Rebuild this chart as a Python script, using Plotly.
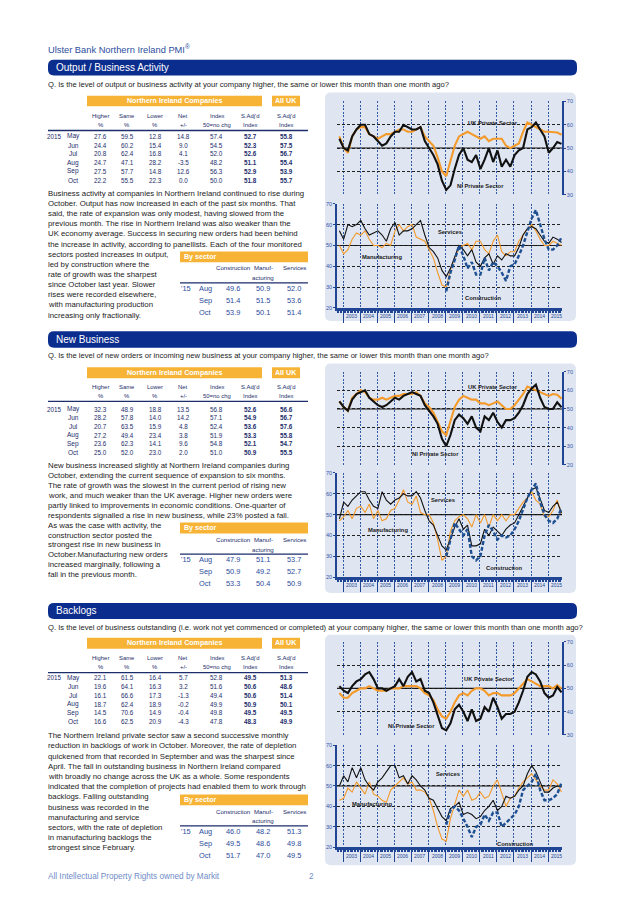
import plotly.graph_objects as go

W, H = 638, 903          # target picture size
OFF = 8                  # the page body adds an 8 px margin; the figure fills the rest
FW, FH = W - OFF, H - OFF

# ----------------------------- data -----------------------------
# quarterly readings (Jan/Apr/Jul/Oct) from Oct 2002 to Oct 2015
start_year, start_month, n_points = 2002, 10, 53
dates = []
for k in range(n_points):
    m = start_month - 1 + 3 * k
    dates.append(f"{start_year + m // 12}-{m % 12 + 1:02d}-15")

year_labels = list(range(2003, 2016))

# Output / Business Activity
out_ni = [54, 50, 49, 55, 58, 60, 60, 56, 55, 53, 51, 52, 55, 57, 57, 60, 59, 58, 58, 59, 53, 50, 47, 43, 36,
          32, 34, 41, 47, 50, 45, 44, 47, 41, 45, 50, 44, 49, 42, 45, 42, 47, 49, 50, 58, 59, 61, 58, 55, 48, 50, 52.6, 51.8]
out_uk = [55, 50, 48, 55, 58, 59, 59, 56, 55, 54, 55, 56, 56, 57, 58, 58, 57, 57, 58, 59, 55, 53, 51, 46, 40,
          38, 44, 51, 55, 56, 57, 56, 55, 54, 55, 53, 54, 54, 54, 51, 50, 51, 52, 57, 61, 60, 59, 58, 57, 57, 57, 56.7, 55.7]
out_serv = [57, 53, 60, 59, 60, 62, 58, 55, 56, 57, 55, 52, 58, 61, 55, 57, 57, 58, 60, 62, 55, 49, 47, 44, 38,
            35, 39, 45, 50, 48, 45, 48, 42, 40, 44, 46, 41, 45, 43, 46, 45, 45, 49, 55, 58, 59, 58, 55, 52, 51, 54, 53, 51.4]
out_manu = [50, 46, 48, 53, 56, 55, 57, 53, 50, 50, 49, 51, 50, 57, 60, 57, 59, 60, 54, 53, 52, 48, 44, 37, 31,
            30, 38, 44, 49, 50, 51, 48, 52, 52, 48, 46, 52, 55, 47, 45, 47, 47, 52, 55, 58, 60, 57, 53, 50, 50, 52, 51, 50.1]
out_cons = [None] * 25 + [28, 37, 43, 50, 45, 39, 42, 36, 36, 44, 38, 42, 40, 37, 33, 40,
                          41, 45, 50, 56, 63, 67, 60, 53, 48, 48, 50, 53.9]

# New Business
nb_ni = [54, 51, 49, 55, 58, 59, 60, 56, 54, 52, 51, 52, 54, 56, 55, 57, 58, 59, 58, 57, 52, 49, 46, 42, 34,
         30, 36, 44, 47, 45, 42, 46, 40, 38, 46, 44, 48, 43, 40, 44, 44, 45, 48, 52, 58, 61, 63, 56, 51, 50, 50, 53.6, 50.9]
nb_uk = [54, 51, 49, 56, 58, 60, 59, 56, 55, 55, 56, 55, 56, 57, 57, 58, 58, 58, 59, 57, 53, 51, 48, 43, 38,
         36, 44, 51, 55, 57, 56, 55, 55, 53, 53, 52, 53, 54, 52, 50, 50, 52, 55, 58, 62, 61, 60, 59, 58, 57, 58, 57.6, 55.5]
nb_serv = [48, 56, 54, 57, 59, 61, 61, 57, 54, 53, 61, 57, 55, 57, 58, 60, 59, 59, 61, 58, 52, 47, 45, 40, 35,
           33, 38, 44, 48, 43, 45, 35, 35, 36, 43, 40, 44, 42, 40, 43, 45, 46, 50, 54, 58, 62, 63, 57, 52, 51, 54, 56, 50.9]
nb_manu = [47, 49, 52, 48, 53, 54, 51, 55, 48, 52, 47, 48, 52, 53, 57, 62, 56, 55, 59, 51, 50, 50, 46, 38, 28,
           30, 42, 47, 49, 50, 48, 44, 50, 46, 50, 44, 50, 47, 50, 47, 50, 50, 53, 56, 58, 61, 57, 55, 49, 49, 52, 57, 50.4]
nb_cons = [None] * 25 + [30, 38, 46, 43, 40, 43, 30, 28, 30, 40, 45, 42, 38, 40, 39, 40,
                         43, 47, 52, 58, 62, 65, 56, 50, 47, 46, 48, 53.3]

# Backlogs
bl_ni = [51, 49, 48, 51, 53, 54, 56, 57, 54, 50, 50, 49, 50, 51, 54, 51, 55, 57, 53, 54, 49, 48, 44, 38, 33,
         32, 35, 41, 43, 40, 36, 41, 36, 37, 42, 40, 46, 42, 37, 39, 39, 40, 44, 49, 55, 57, 56, 53, 48, 46, 47, 50.6, 48.3]
bl_uk = [48, 46, 46, 48, 49, 50, 50, 51, 50, 49, 49, 49, 50, 50, 50, 51, 51, 51, 51, 50, 48, 47, 45, 41, 38,
         37, 40, 44, 47, 48, 47, 49, 50, 50, 49, 47, 48, 48, 47, 47, 47, 48, 50, 52, 54, 53, 52, 51, 51, 51, 50, 51.4, 49.9]
bl_serv = [50, 55, 52, 59, 54, 59, 53, 50, 48, 52, 54, 57, 60, 60, 54, 55, 51, 55, 53, 50, 48, 44, 43, 39, 35,
           33, 39, 40, 42, 36, 37, 36, 34, 35, 38, 40, 43, 38, 40, 45, 44, 45, 48, 50, 56, 60, 57, 52, 47, 47, 49, 50, 49.5]
bl_manu = [43, 44, 49, 47, 52, 49, 46, 52, 46, 45, 43, 42, 48, 50, 52, 54, 51, 52, 48, 48, 47, 44, 38, 30, 24,
           23, 34, 41, 48, 45, 48, 43, 44, 47, 44, 45, 50, 53, 46, 40, 44, 45, 49, 52, 54, 56, 53, 50, 48, 48, 53, 51, 47.0]
bl_cons = [None] * 25 + [31, 38, 40, 38, 34, 30, 25, 30, 31, 36, 33, 37, 37, 30, 32, 34,
                         36, 40, 48, 50, 52, 56, 48, 43, 43, 44, 46, 51.7]

# tables
months = ["May", "Jun", "Jul", "Aug", "Sep", "Oct"]
col_heads = [("Higher", "%"), ("Same", "%"), ("Lower", "%"), ("Net", "+/-"),
             ("Index", "50=no chg"), ("S.Adj'd", "Index"), ("S.Adj'd", "Index")]

out_higher = [27.6, 24.4, 20.8, 24.7, 27.5, 22.2]
out_same = [59.5, 60.2, 62.4, 47.1, 57.7, 55.5]
out_lower = [12.8, 15.4, 16.8, 28.2, 14.8, 22.3]
out_net = [14.8, 9.0, 4.1, -3.5, 12.6, 0.0]
out_index = [57.4, 54.5, 52.0, 48.2, 56.3, 50.0]
out_sa = [52.7, 52.3, 52.6, 51.1, 52.9, 51.8]
out_uk_sa = [55.8, 57.5, 56.7, 55.4, 53.9, 55.7]

nb_higher = [32.3, 28.2, 20.7, 27.2, 23.6, 25.0]
nb_same = [48.9, 57.8, 63.5, 49.4, 62.3, 52.0]
nb_lower = [18.8, 14.0, 15.9, 23.4, 14.1, 23.0]
nb_net = [13.5, 14.2, 4.8, 3.8, 9.6, 2.0]
nb_index = [56.8, 57.1, 52.4, 51.9, 54.8, 51.0]
nb_sa = [52.6, 54.9, 53.6, 53.3, 52.1, 50.9]
nb_uk_sa = [56.6, 56.7, 57.6, 55.8, 54.7, 55.5]

bl_higher = [22.1, 19.6, 16.1, 18.7, 14.5, 16.6]
bl_same = [61.5, 64.1, 66.6, 62.4, 70.6, 62.5]
bl_lower = [16.4, 16.3, 17.3, 18.9, 14.9, 20.9]
bl_net = [5.7, 3.2, -1.3, -0.2, -0.4, -4.3]
bl_index = [52.8, 51.6, 49.4, 49.9, 49.8, 47.8]
bl_sa = [49.5, 50.6, 50.6, 50.9, 49.5, 48.3]
bl_uk_sa = [51.3, 48.6, 51.4, 50.1, 49.5, 49.9]

sec_months = ["Aug", "Sep", "Oct"]
out_sec_cons = [49.6, 51.4, 53.9]
out_sec_manu = [50.9, 51.5, 50.1]
out_sec_serv = [52.0, 53.6, 51.4]
nb_sec_cons = [47.9, 50.9, 53.3]
nb_sec_manu = [51.1, 49.2, 50.4]
nb_sec_serv = [53.7, 52.7, 50.9]
bl_sec_cons = [46.0, 49.5, 51.7]
bl_sec_manu = [48.2, 48.6, 47.0]
bl_sec_serv = [51.3, 49.8, 49.5]

q1 = "Q. Is the level of output or business activity at your company higher, the same or lower this month than one month ago?"
q2 = "Q. Is the level of new orders or incoming new business at your company higher, the same or lower this month than one month ago?"
q3 = ("Q. Is the level of business outstanding (i.e. work not yet commenced or completed) at your company higher, "
      "the same or lower this month than one month ago?")

para1 = ["Business activity at companies in Northern Ireland continued to rise during",
         "October. Output has now increased in each of the past six months. That",
         "said, the rate of expansion was only modest, having slowed from the",
         "previous month. The rise in Northern Ireland was also weaker than the",
         "UK economy average. Success in securing new orders had been behind",
         "the increase in activity, according to panellists. Each of the four monitored",
         "sectors posted increases in output,",
         "led by construction where the",
         "rate of growth was the sharpest",
         "since October last year. Slower",
         "rises were recorded elsewhere,",
         "with manufacturing production",
         "increasing only fractionally."]
para2 = ["New business increased slightly at Northern Ireland companies during",
         "October, extending the current sequence of expansion to six months.",
         "The rate of growth was the slowest in the current period of rising new",
         "work, and much weaker than the UK average. Higher new orders were",
         "partly linked to improvements in economic conditions. One-quarter of",
         "respondents signalled a rise in new business, while 23% posted a fall.",
         "As was the case with activity, the",
         "construction sector posted the",
         "strongest rise in new business in",
         "October.Manufacturing new orders",
         "increased marginally, following a",
         "fall in the previous month."]
para3 = ["The Northern Ireland private sector saw a second successive monthly",
         "reduction in backlogs of work in October. Moreover, the rate of depletion",
         "quickened from that recorded in September and was the sharpest since",
         "April. The fall in outstanding business in Northern Ireland compared",
         "with broadly no change across the UK as a whole. Some respondents",
         "indicated that the completion of projects had enabled them to work through",
         "backlogs. Falling outstanding",
         "business was recorded in the",
         "manufacturing and service",
         "sectors, with the rate of depletion",
         "in manufacturing backlogs the",
         "strongest since February."]

# ----------------------------- style -----------------------------
FN = "Liberation Sans, Arial, sans-serif"
FR = "Liberation Sans, Arial, sans-serif"
NAVY = "#1c2d6b"
BANNER = "#0b2d8e"
ORANGE_BAR = "#f6b335"
PANEL_BG = "#dfe5f1"
AXIS_BLUE = "#1f4594"
TICK_BLUE = "#3358a8"
VGRID = "#2e5aa8"
C_ORANGE = "#f49a2a"
C_BLACK = "#111111"
C_CONS = "#1d4f91"
TXT = "#222222"
SEC_BLUE = "#2b4b9b"

annotations, shapes = [], []


def X(px):
    return (px - OFF) / FW


def Y(py):
    return 1 - (py - OFF) / FH


def text(x, y, s, size=7, color=TXT, xanchor="left", family=FN, bold=False):
    annotations.append(dict(x=X(x), y=Y(y), xref="paper", yref="paper",
                            text=f"<b>{s}</b>" if bold else s, showarrow=False,
                            xanchor=xanchor, yanchor="middle", borderpad=0,
                            font=dict(size=size, color=color, family=family)))


def rrect(x0, y0, x1, y1, r, color):
    pts = [("M", [(x0 + r, y0)]), ("L", [(x1 - r, y0)]), ("Q", [(x1, y0), (x1, y0 + r)]),
           ("L", [(x1, y1 - r)]), ("Q", [(x1, y1), (x1 - r, y1)]), ("L", [(x0 + r, y1)]),
           ("Q", [(x0, y1), (x0, y1 - r)]), ("L", [(x0, y0 + r)]), ("Q", [(x0, y0), (x0 + r, y0)])]
    path = " ".join(c + " " + " ".join(f"{X(a):.5f},{Y(b):.5f}" for a, b in p) for c, p in pts) + " Z"
    shapes.append(dict(type="path", path=path, xref="paper", yref="paper",
                       fillcolor=color, line=dict(width=0), layer="below"))


def rect(x0, y0, x1, y1, color):
    shapes.append(dict(type="rect", xref="paper", yref="paper", x0=X(x0), x1=X(x1),
                       y0=Y(y1), y1=Y(y0), fillcolor=color, line=dict(width=0), layer="below"))


def hline(x0, x1, y, color, width):
    shapes.append(dict(type="line", xref="paper", yref="paper", x0=X(x0), x1=X(x1),
                       y0=Y(y), y1=Y(y), line=dict(color=color, width=width)))


# ----------------------------- page text -----------------------------
text(47, 46, "Ulster Bank Northern Ireland PMI<sup>®</sup>", 9.3, "#2d4e9e", family=FR)
text(47, 879, "All Intellectual Property Rights owned by Markit", 8.2, "#6f8cc8", family=FR)
text(311, 879, "2", 8.2, "#6f8cc8", xanchor="center", family=FR)

sections = [
    dict(title="Output / Business Activity", q=q1, para=para1,
         table=[out_higher, out_same, out_lower, out_net, out_index, out_sa, out_uk_sa],
         sec=[out_sec_cons, out_sec_manu, out_sec_serv],
         banner=(57, 73), qy=82.3, bar=(93.3, 104), hdr=(113.3, 122.3), ul=128.3, row0=134.3,
         p0=191.7, pdy=10.2, bt=250, box=(90, 320)),
    dict(title="New Business", q=q2, para=para2,
         table=[nb_higher, nb_same, nb_lower, nb_net, nb_index, nb_sa, nb_uk_sa],
         sec=[nb_sec_cons, nb_sec_manu, nb_sec_serv],
         banner=(330.5, 347), qy=355, bar=(366.7, 377.7), hdr=(386.7, 395.3), ul=401, row0=408.7,
         p0=466, pdy=9.95, bt=523, box=(363, 594)),
    dict(title="Backlogs", q=q3, para=para3,
         table=[bl_higher, bl_same, bl_lower, bl_net, bl_index, bl_sa, bl_uk_sa],
         sec=[bl_sec_cons, bl_sec_manu, bl_sec_serv],
         banner=(604, 620), qy=628.3, bar=(639, 650), hdr=(659.3, 668), ul=674, row0=679.3,
         p0=737.7, pdy=10.25, bt=796.7, box=(636, 868)),
]

col_x = [100.7, 127.3, 155.3, 183.3, 216.7, 250.3, 286]
sec_x = [232.7, 263.3, 294]

for s in sections:
    b0, b1 = s["banner"]
    rrect(48, b0, 577, b1, 6, BANNER)
    text(55, (b0 + b1) / 2, s["title"], 10, "white", family=FR)
    text(47, s["qy"], s["q"], 7.6, TXT)
    # main table
    y0, y1 = s["bar"]
    rect(87, y0, 262, y1, ORANGE_BAR)
    rect(272, y0, 300, y1, ORANGE_BAR)
    text(174.5, (y0 + y1) / 2, "Northern Ireland Companies", 7.1, "white", "center", bold=True)
    text(286, (y0 + y1) / 2, "All UK", 7.1, "white", "center", bold=True)
    for cx, (h1, h2) in zip(col_x, col_heads):
        text(cx, s["hdr"][0], h1, 5.9, NAVY, "center")
        text(cx, s["hdr"][1], h2, 5.9, NAVY, "center")
    hline(48, 308, s["ul"], "#1c2d6b", 1.3)
    for i, mth in enumerate(months):
        ry = s["row0"] + 8.8 * i
        if i == 0:
            text(54, ry, "2015", 6.3, NAVY, "center")
        text(73, ry, mth, 6.5, NAVY, "center")
        for j, (cx, col) in enumerate(zip(col_x, s["table"])):
            text(cx, ry, f"{col[i]:.1f}", 6.3, NAVY, "center", bold=(j >= 5))
    # paragraph
    for i, line in enumerate(s["para"]):
        text(47, s["p0"] + s["pdy"] * i, line, 7.8, TXT)
    # by sector table
    bt = s["bt"]
    rect(180, bt, 308, bt + 11, ORANGE_BAR)
    text(183, bt + 5.5, "By sector", 7.1, "white", bold=True)
    text(sec_x[0], bt + 16.7, "Construction", 6.1, NAVY, "center")
    text(sec_x[1], bt + 16.7, "Manuf-", 6.1, NAVY, "center")
    text(sec_x[1], bt + 26.7, "acturing", 6.1, NAVY, "center")
    text(sec_x[2], bt + 16.7, "Services", 6.1, NAVY, "center")
    hline(180, 308, bt + 31.7, "#1c2d6b", 1.3)
    for i, mth in enumerate(sec_months):
        ry = bt + 37.3 + 12 * i
        if i == 0:
            text(186, ry, "'15", 7.4, SEC_BLUE, "center")
        text(205, ry, mth, 7.4, SEC_BLUE, "center")
        for cx, col in zip(sec_x, s["sec"]):
            text(cx, ry, f"{col[i]:.1f}", 7.4, SEC_BLUE, "center")
    # chart background box
    bx0, bx1 = s["box"]
    rrect(325, bx0, 576, bx1, 6, PANEL_BG)

# ----------------------------- charts -----------------------------
panels = [
    dict(top=99, bot=193, lo=30, hi=70, kind="top", series=[(out_uk, C_ORANGE), (out_ni, C_BLACK)],
         labels=[("UK Private Sector", 493, 120.7), ("NI Private Sector", 480, 184)]),
    dict(top=202, bot=307, lo=20, hi=70, kind="bot", series=[(out_manu, "m"), (out_serv, "s"), (out_cons, "c")],
         labels=[("Services", 450, 230.5), ("Manufacturing", 382, 255.7), ("Construction", 483, 296.7)], ylab=315),
    dict(top=371, bot=465, lo=20, hi=70, kind="top", series=[(nb_uk, C_ORANGE), (nb_ni, C_BLACK)],
         labels=[("UK Private Sector", 493, 386.7), ("NI Private Sector", 435, 454.3)]),
    dict(top=473, bot=578, lo=20, hi=70, kind="bot", series=[(nb_manu, "m"), (nb_serv, "s"), (nb_cons, "c")],
         labels=[("Services", 442.5, 500.7), ("Manufacturing", 388, 530.7), ("Construction", 504, 568.3)], ylab=586),
    dict(top=643, bot=737, lo=30, hi=70, kind="top", series=[(bl_uk, C_ORANGE), (bl_ni, C_BLACK)],
         labels=[("UK Private Sector", 489.5, 681), ("NI Private Sector", 411.7, 727.7)]),
    dict(top=747, bot=850, lo=20, hi=70, kind="bot", series=[(bl_manu, "m"), (bl_serv, "s"), (bl_cons, "c")],
         labels=[("Services", 448, 775.7), ("Manufacturing", 372, 806.7), ("Construction", 515, 846.7)], ylab=858.5),
]

fig = go.Figure()
layout_axes = {}
for p, pn in enumerate(panels):
    n = p + 1
    sfx = "" if n == 1 else str(n)
    xa, ya = f"x{sfx}", f"y{sfx}"
    for data, style in pn["series"]:
        if pn["kind"] == "top":
            line = dict(color=style, width=2.1)
        elif style == "m":
            line = dict(color=C_ORANGE, width=1.1)
        elif style == "s":
            line = dict(color=C_BLACK, width=1.1)
        else:
            line = dict(color=C_CONS, width=2.4, dash="4px,2px")
        fig.add_trace(go.Scatter(x=dates, y=data, mode="lines", line=line, xaxis=xa, yaxis=ya,
                                 hoverinfo="skip", showlegend=False, connectgaps=False))
    xdict = dict(domain=[X(337), X(562)], anchor=ya, type="date",
                 range=["2002-08-25", "2015-10-25"], tick0="2003-01-01", dtick="M12",
                 showgrid=True, gridcolor=VGRID, griddash="2px,1.5px", gridwidth=0.9,
                 showticklabels=False, zeroline=False)
    if pn["kind"] == "bot":
        xdict.update(showline=True, linecolor=AXIS_BLUE, linewidth=3, ticks="outside",
                     ticklen=12, tickwidth=0.9, tickcolor=AXIS_BLUE,
                     minor=dict(dtick="M1", tick0="2003-01-01", ticks="outside", ticklen=2,
                                tickwidth=0.7, tickcolor=AXIS_BLUE, showgrid=False))
    else:
        xdict.update(showline=False, ticks="")
    ydict = dict(domain=[Y(pn["bot"]), Y(pn["top"])], anchor=xa,
                 range=[pn["lo"] - 0.05, pn["hi"] + 0.05], tick0=0, dtick=10,
                 showgrid=True, gridcolor="#222222", griddash="3px,2px", gridwidth=0.8,
                 zeroline=False, showline=True, linecolor=AXIS_BLUE, linewidth=1.5,
                 side="right" if pn["kind"] == "top" else "left",
                 ticks="outside", ticklen=2, tickcolor=AXIS_BLUE, tickwidth=0.8,
                 tickfont=dict(size=5.5, color=TICK_BLUE, family=FR))
    layout_axes[f"xaxis{sfx}"] = xdict
    layout_axes[f"yaxis{sfx}"] = ydict
    shapes.append(dict(type="line", xref=f"{xa} domain", yref=ya, x0=0, x1=1, y0=50, y1=50,
                       line=dict(color="#111111", width=1.1), layer="below"))
    for lab, lx, ly in pn["labels"]:
        text(lx, ly, lab, 5.8, "#1a1a1a", "center", bold=True)
    if pn["kind"] == "bot":
        for yr in year_labels:
            annotations.append(dict(x=f"{yr}-07-02", y=Y(pn["ylab"]), xref=xa, yref="paper",
                                    text=str(yr), showarrow=False, xanchor="center", yanchor="middle",
                                    borderpad=0, font=dict(size=5, color=AXIS_BLUE, family=FR)))

fig.update_layout(width=FW, height=FH, autosize=False, margin=dict(l=0, r=0, t=0, b=0),
                  paper_bgcolor="white", plot_bgcolor="rgba(0,0,0,0)", showlegend=False,
                  shapes=shapes, annotations=annotations, **layout_axes)
fig.write_html("out.html")
